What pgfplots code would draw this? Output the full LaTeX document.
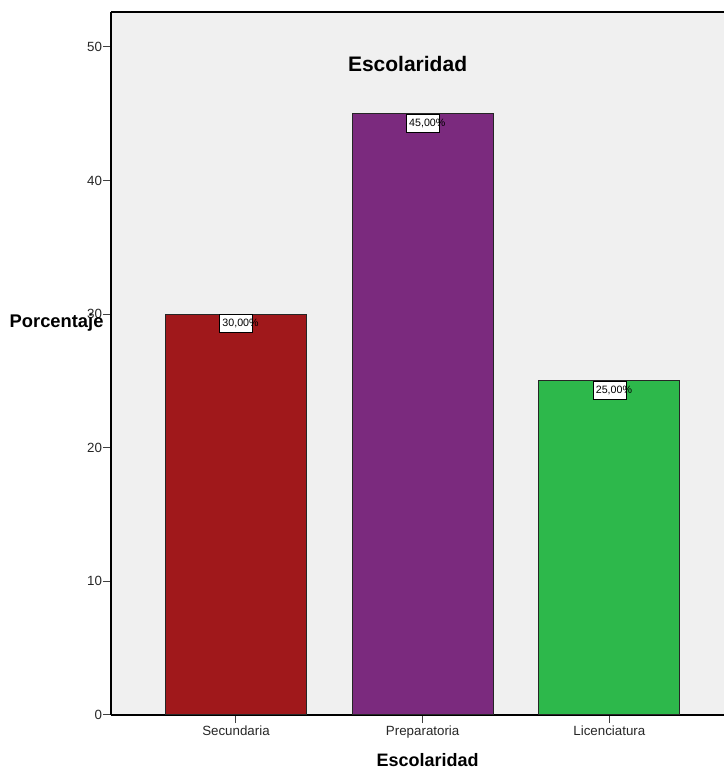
\documentclass[border=0pt]{standalone}
\usepackage{pgfplots}
\pgfplotsset{compat=1.18}
\usepackage{fontspec}
\setmainfont{Liberation Sans}
\definecolor{bgc}{HTML}{F0F0F0}
\definecolor{c1}{HTML}{A0181B}
\definecolor{c2}{HTML}{7B2A7E}
\definecolor{c3}{HTML}{2DB84B}
\begin{document}
\begin{tikzpicture}
\begin{axis}[
  scale only axis, width=459.75pt, height=527.25pt,
  xmin=-0.6695, xmax=2.614, ymin=0, ymax=52.62,
  ybar, bar shift=0pt, bar width=0.755,
  axis x line=box, axis y line=left,
  axis line style={-, line width=1pt, black},
  xtick={0,1,2}, xticklabels={Secundaria,Preparatoria,Licenciatura},
  ytick={0,10,20,30,40,50},
  xtick pos=bottom, ytick pos=left,
  tick align=outside, major tick length=6pt,
  tick style={line width=0.75pt, black!75},
  axis background/.style={fill=bgc},
  clip=false,
  /pgf/number format/assume math mode=true,
  ticklabel style={font=\fontsize{10}{12}\selectfont, text=black!85},
  yticklabel style={inner sep=0.5pt},
  xticklabel style={inner sep=2pt},
  every node near coord/.append style={anchor=north, fill=white, draw=black, line width=0.5pt, inner sep=0pt, minimum height=13.5pt, text depth=0.5pt, font=\fontsize{8}{9}\selectfont, text=black},
]
\addplot[fill=c1, draw=black!85, line width=0.75pt, nodes near coords={\hbox to 24.75pt{\hspace{2.25pt}\rlap{30,00\%}\hfil}}] coordinates {(0,30)};
\addplot[fill=c2, draw=black!85, line width=0.75pt, nodes near coords={\hbox to 24.75pt{\hspace{2.25pt}\rlap{45,00\%}\hfil}}] coordinates {(1,45)};
\addplot[fill=c3, draw=black!85, line width=0.75pt, nodes near coords={\hbox to 24.75pt{\hspace{2.25pt}\rlap{25,00\%}\hfil}}] coordinates {(2,25)};
\node[anchor=base, font=\fontsize{15.75}{18}\selectfont\bfseries] at (axis cs:0.919,48.13) {Escolaridad};
\node[anchor=base west, font=\fontsize{13.75}{16}\selectfont\bfseries, xshift=-79.5pt] at (axis cs:-0.6695,28.97) {Porcentaje};
\node[anchor=base, font=\fontsize{13.5}{16}\selectfont\bfseries, yshift=-38.25pt] at (axis cs:1.026,0) {Escolaridad};
\coordinate (LL) at (rel axis cs:0,0);
\coordinate (UR) at (rel axis cs:1,1);
\end{axis}
\pgfresetboundingbox
\path[use as bounding box] ([xshift=-83.25pt,yshift=-39.75pt]LL) rectangle ([yshift=9pt]UR);
\end{tikzpicture}
\end{document}
